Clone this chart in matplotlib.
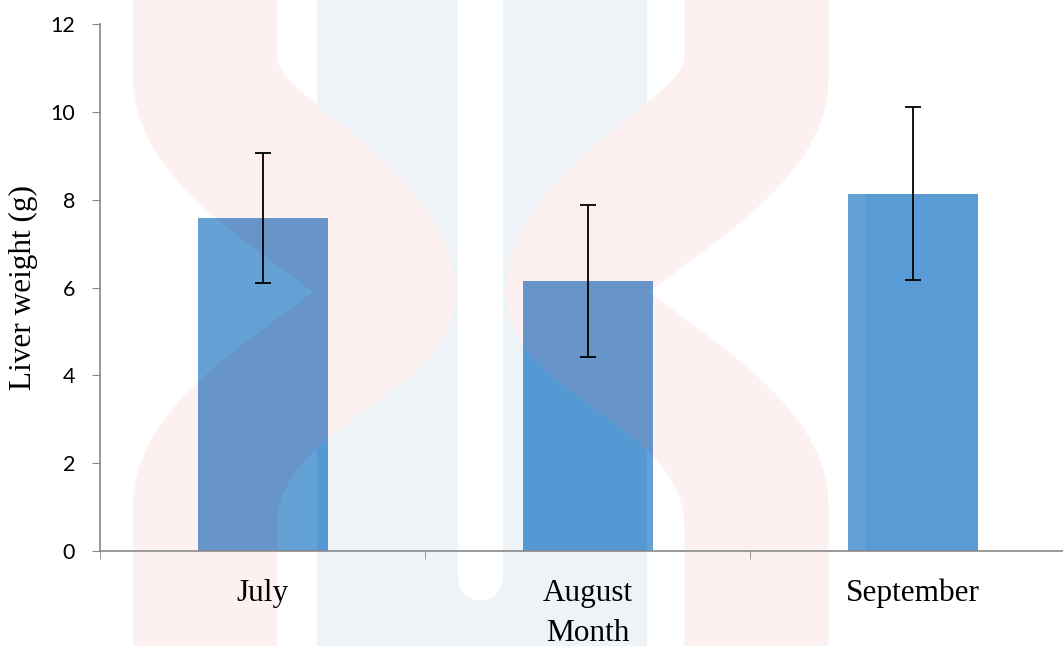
import matplotlib.pyplot as plt
from matplotlib.path import Path
from matplotlib.patches import PathPatch
from matplotlib.transforms import Affine2D

#### data ####
months = ['July', 'August', 'September']
liver_weight = [7.59, 6.15, 8.14]
liver_err = [1.48, 1.73, 1.97]
y_ticks = [0, 2, 4, 6, 8, 10, 12]

W, H = 1063, 646
fig = plt.figure(figsize=(W / 100, H / 100), dpi=100)
ax = fig.add_axes([100 / W, (H - 551) / H, 975 / W, 527 / H])
ax.set_facecolor('none')

x = list(range(len(months)))
bars = ax.bar(x, liver_weight, width=0.4, color='#5B9BD5', zorder=2)
ax.errorbar(x, liver_weight, yerr=liver_err, fmt='none', ecolor='black',
            elinewidth=1.3, capsize=6, capthick=1.3, zorder=3)

ax.set_xlim(-0.5, len(months) - 0.5)
ax.set_ylim(0, 12)
ax.set_yticks(y_ticks)
ax.set_xticks(x)
ax.set_xticklabels(months, family='Liberation Serif', fontsize=22.5)
ax.set_xticks([i - 0.5 for i in range(len(months) + 1)], minor=True)
ax.tick_params(axis='x', which='major', length=0, pad=20)
ax.tick_params(axis='x', which='minor', length=6, color='#898989', direction='out')
ax.tick_params(axis='y', length=6, color='#898989', pad=12, labelsize=15.5)
for lbl in ax.get_yticklabels():
    lbl.set_family('Lato')

for s in ['top', 'right']:
    ax.spines[s].set_visible(False)
for s in ['left', 'bottom']:
    ax.spines[s].set_color('#898989')
    ax.spines[s].set_linewidth(1.2)

ax.set_xlabel('Month', family='Liberation Serif', fontsize=22.5, labelpad=7.5)
ax.set_ylabel('Liver weight (g)', family='Liberation Serif', fontsize=22.5, labelpad=9)

#### watermark (pixel coords, y down) ####
px = Affine2D().scale(1 / W, -1 / H).translate(0, 1) + fig.transFigure
M, L, C, Z = Path.MOVETO, Path.LINETO, Path.CURVE4, Path.CLOSEPOLY


def chevron(flip=False):
    pts = [(133, 0), (133, 77),
           (133, 170), (230, 230), (313, 292),
           (230, 354), (133, 414), (133, 507),
           (133, 646), (277, 646), (277, 527),
           (277, 420), (455, 400), (455, 292),
           (455, 170), (277, 100), (277, 57),
           (277, 0), (133, 0)]
    codes = [M, L, C, C, C, C, C, C, L, L, L, C, C, C, C, C, C, L, Z]
    if flip:
        pts = [(961.5 - a, b) for a, b in pts]
    return Path(pts, codes)


band = Path([(317, 0), (458, 0), (458, 578),
             (458, 590.4), (468.1, 600.5), (480.5, 600.5),
             (492.9, 600.5), (503, 590.4), (503, 578),
             (503, 0), (647, 0), (647, 646), (317, 646), (317, 0)],
            [M, L, L, C, C, C, C, C, C, L, L, L, L, Z])
box = Path([(97, 0), (865, 0), (865, 646), (97, 646), (97, 0)], [M, L, L, L, Z])

# on the white page
fig.add_artist(PathPatch(band, transform=px, fc='#EEF3F8', ec='none', zorder=-2))
fig.add_artist(PathPatch(chevron(), transform=px, fc='#FDF0F0', ec='none', zorder=-1))
fig.add_artist(PathPatch(chevron(True), transform=px, fc='#FDF0F0', ec='none', zorder=-1))

# tinted through the bars
for rect in bars:
    for shape, col, z in [(box, '#64A2D6', 2.1), (band, '#5499D4', 2.2),
                          (chevron(), '#6895C9', 2.3), (chevron(True), '#6895C9', 2.3)]:
        p = PathPatch(shape, transform=px, fc=col, ec='none', zorder=z)
        ax.add_artist(p)
        p.set_clip_path(rect)

fig.savefig('out.png', dpi=100)
